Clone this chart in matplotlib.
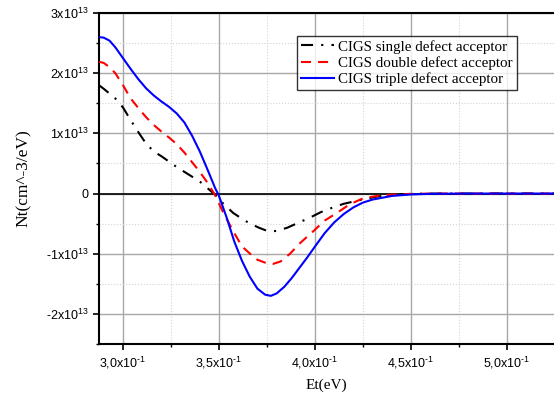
import numpy as np
import matplotlib
matplotlib.use("Agg")
import matplotlib.pyplot as plt
from matplotlib.ticker import MultipleLocator, FuncFormatter

plt.rcParams["mathtext.fontset"] = "custom"
plt.rcParams["mathtext.rm"] = "Liberation Sans"
plt.rcParams["mathtext.it"] = "Liberation Sans"
plt.rcParams["axes.unicode_minus"] = False

# energy (eV) and defect density (units of 1e13 cm^-3/eV)
e_single = [0.2875, 0.2900, 0.2930, 0.2960, 0.3000, 0.3040, 0.3080, 0.3120, 0.3160,
            0.3200, 0.3240, 0.3280, 0.3320, 0.3360, 0.3400, 0.3440, 0.3480, 0.3520,
            0.3573, 0.3620, 0.3662, 0.3710, 0.3750, 0.3770, 0.3800, 0.3854, 0.3910,
            0.3974, 0.4030, 0.4094, 0.4150, 0.4219, 0.4323, 0.4450, 0.4600, 0.5000, 0.5250]
nt_single = [1.80, 1.74, 1.66, 1.58, 1.43, 1.22, 1.02, 0.83, 0.70,
             0.62, 0.53, 0.44, 0.36, 0.28, 0.20, 0.09, -0.02, -0.16,
             -0.32, -0.42, -0.50, -0.57, -0.62, -0.63, -0.62, -0.57, -0.49,
             -0.40, -0.31, -0.23, -0.17, -0.12, -0.05, -0.01, 0.0, 0.0, 0.0]

e_double = [0.2875, 0.2900, 0.2930, 0.2960, 0.3000, 0.3040, 0.3080, 0.3120, 0.3160,
            0.3200, 0.3240, 0.3280, 0.3320, 0.3360, 0.3400, 0.3440, 0.3480, 0.3520,
            0.3573, 0.3620, 0.3662, 0.3700, 0.3750, 0.3780, 0.3820, 0.3870, 0.3920,
            0.3990, 0.4050, 0.4115, 0.4180, 0.4250, 0.4340, 0.4450, 0.4600, 0.5000, 0.5250]
nt_double = [2.19, 2.17, 2.10, 2.00, 1.80, 1.58, 1.42, 1.27, 1.14,
             1.03, 0.93, 0.82, 0.68, 0.52, 0.36, 0.18, -0.03, -0.30,
             -0.62, -0.88, -1.00, -1.10, -1.16, -1.17, -1.13, -1.00, -0.83,
             -0.63, -0.45, -0.32, -0.18, -0.08, -0.03, -0.01, 0.0, 0.0, 0.0]

e_triple = [0.2875, 0.2900, 0.2930, 0.2960, 0.3000, 0.3040, 0.3080, 0.3120, 0.3160,
            0.3200, 0.3240, 0.3280, 0.3320, 0.3360, 0.3400, 0.3440, 0.3480, 0.3500,
            0.3540, 0.3580, 0.3620, 0.3660, 0.3700, 0.3740, 0.3770, 0.3800, 0.3840,
            0.3880, 0.3920, 0.3960, 0.4000, 0.4050, 0.4100, 0.4150, 0.4200, 0.4250,
            0.4300, 0.4350, 0.4400, 0.4500, 0.4600, 0.4800, 0.5000, 0.5250]
nt_triple = [2.60, 2.59, 2.54, 2.43, 2.25, 2.07, 1.90, 1.75, 1.63,
             1.53, 1.44, 1.33, 1.18, 0.96, 0.70, 0.40, 0.09, -0.04,
             -0.40, -0.80, -1.12, -1.38, -1.58, -1.68, -1.70, -1.66, -1.55,
             -1.40, -1.23, -1.06, -0.88, -0.66, -0.48, -0.34, -0.23, -0.15,
             -0.10, -0.07, -0.04, -0.015, -0.005, 0.0, 0.0, 0.0]

labels = ["CIGS single defect acceptor", "CIGS double defect acceptor",
          "CIGS triple defect acceptor"]

SCALE = 1e13


def y_fmt(v, pos):
    m = int(round(v / SCALE))
    if m == 0:
        return "0"
    return f"{m}x10$^{{13}}$"


def x_fmt(v, pos):
    return f"{v * 10:.1f}".replace(".", ",") + r"x10$^{\text{-}1}$"


fig = plt.figure(figsize=(5.54, 3.98), dpi=100)
ax = fig.add_axes([99 / 554, 54 / 398, 455 / 554, 331 / 398])

ax.plot(e_single, np.array(nt_single) * SCALE, color="black", lw=1.5,
        linestyle=(0, (5.8, 3.9, 1, 3.9)), label=labels[0], zorder=3)
ax.plot(e_double, np.array(nt_double) * SCALE, color="#ff0000", lw=1.5,
        linestyle=(0, (4.8, 3.4)), label=labels[1], zorder=3)
ax.plot(e_triple, np.array(nt_triple) * SCALE, color="#0000ff", lw=1.5,
        label=labels[2], zorder=4)

ax.axhline(0, color="black", lw=1.2, zorder=2)

ax.set_xlim(0.2875, 0.5245)
ax.set_ylim(-2.5e13, 3e13)

ax.xaxis.set_major_locator(MultipleLocator(0.05))
ax.xaxis.set_minor_locator(MultipleLocator(0.025))
ax.yaxis.set_major_locator(MultipleLocator(1e13))
ax.yaxis.set_minor_locator(MultipleLocator(0.5e13))
ax.xaxis.set_major_formatter(FuncFormatter(x_fmt))
ax.yaxis.set_major_formatter(FuncFormatter(y_fmt))

ax.grid(True, which="major", color="#a8a8a8", lw=1.0, zorder=0)
ax.grid(True, which="minor", color="#d4d4d4", lw=0.8, linestyle=":", zorder=0)
ax.set_axisbelow(True)

ax.tick_params(which="major", direction="out", length=4, width=1.2,
               labelsize=9, colors="black")
ax.tick_params(which="minor", direction="out", length=2.5, width=1.0)
for lab in ax.get_xticklabels() + ax.get_yticklabels():
    lab.set_family("Liberation Sans")

for s in ["left", "bottom", "top"]:
    ax.spines[s].set_linewidth(1.5)
ax.spines["right"].set_visible(False)

ax.set_xlabel("Et(eV)", family="Liberation Serif", fontsize=11, labelpad=6)
ax.set_ylabel("Nt(cm^-3/eV)", family="Liberation Serif", fontsize=12.5, labelpad=10)

leg = ax.legend(loc="upper left", bbox_to_anchor=(0.435, 0.93), borderaxespad=0,
                prop={"family": "Liberation Serif", "size": 10.8}, frameon=True,
                fancybox=False, handlelength=2.2, handletextpad=0.3,
                labelspacing=0.16, borderpad=0.25)
leg.get_frame().set_edgecolor("black")
leg.get_frame().set_linewidth(1.0)

fig.savefig("out.png", dpi=100)
